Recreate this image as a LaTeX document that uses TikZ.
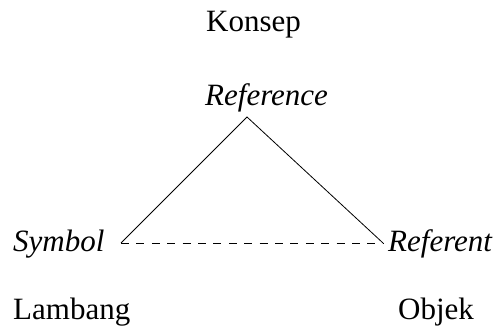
\documentclass[tikz,border=0pt]{standalone}
\usepackage{fontspec}
\setmainfont{Liberation Serif}
\begin{document}
\begin{tikzpicture}[x=1pt,y=1pt,
  lbl/.style={inner sep=0pt,anchor=base west,font=\fontsize{31}{36}\selectfont},
  ilbl/.style={lbl,font=\fontsize{31}{36}\selectfont\itshape},
  edge/.style={line width=0.8pt},
  dashedge/.style={line width=0.8pt,dash pattern=on 8pt off 7.4pt}]
\useasboundingbox (0,0) rectangle (498,334);
\node[lbl] (konsep) at (206,302) {Konsep};
\node[ilbl] (reference) at (205,228) {Reference};
\node[ilbl] (symbol) at (13,82) {Symbol};
\node[ilbl] (referent) at (388,82) {Referent};
\node[lbl] (lambang) at (13,14) {Lambang};
\node[lbl] (objek) at (398,14) {Objek};
\coordinate (apex) at (247,217);
\coordinate (left) at (121,91);
\coordinate (right) at (383,91);
\draw[edge] (left) -- (apex) -- (right);
\draw[dashedge] (left) -- (right);
\end{tikzpicture}
\end{document}
